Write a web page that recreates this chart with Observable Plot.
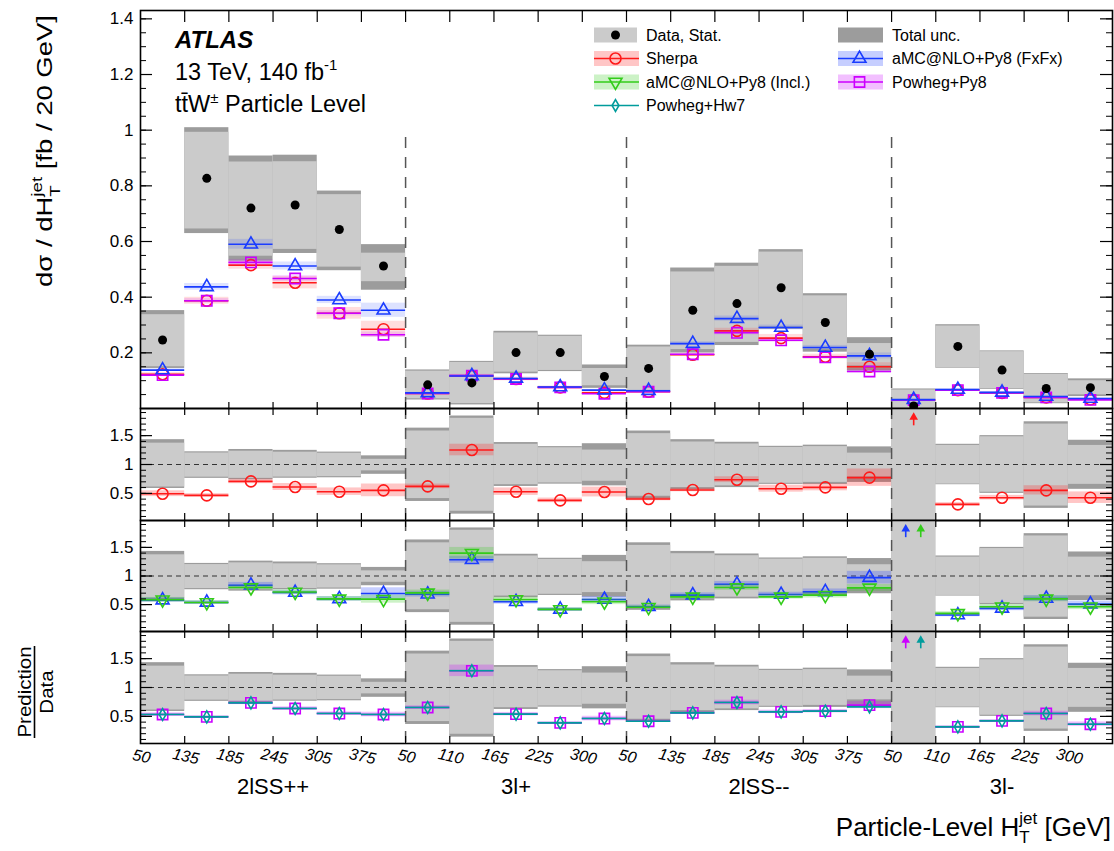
<!DOCTYPE html>
<html>
<head>
<meta charset="utf-8">
<script src="https://cdn.jsdelivr.net/npm/d3@7"></script>
<script src="https://cdn.jsdelivr.net/npm/@observablehq/plot@0.6"></script>
<style>
  body { margin: 0; background: #fff; }
  #wrap { position: relative; width: 1114px; height: 851px; background: #fff;
          font-family: "Liberation Sans", Arial, Helvetica, sans-serif; }
  #wrap > svg { position: absolute; left: 0; }
</style>
</head>
<body>
<div id="wrap"></div>
<script>
// ---------------- data ----------------
const edgeLabels = ["50","135","185","245","305","375","50","110","165","225","300",
                    "50","135","185","245","305","375","50","110","165","225","300"];
const regionNames = ["2lSS++", "3l+", "2lSS--", "3l-"];
const regionBins = [6, 5, 6, 5];

const dataXsec = [0.246,0.827,0.720,0.731,0.643,0.512, 0.085,0.092,0.201,0.201,0.115,
                  0.144,0.353,0.377,0.434,0.309,0.195, 0.009,0.223,0.138,0.072,0.075];
// relative uncertainty bounds (ratio to data)
const totHi  = [1.43,1.22,1.26,1.245,1.215,1.15, 1.63,1.84,1.38,1.31,1.36,
                1.58,1.43,1.385,1.315,1.335,1.305, 7.8,1.35,1.50,1.74,1.42];
const statHi = [1.37,1.20,1.23,1.213,1.195,1.09, 1.58,1.80,1.35,1.29,1.25,
                1.535,1.39,1.355,1.295,1.31,1.197, 7.4,1.33,1.48,1.70,1.33];
const statLo = [0.61,0.78,0.76,0.782,0.79,0.89, 0.41,0.19,0.65,0.68,0.71,
                0.45,0.60,0.63,0.675,0.69,0.785, -3.0,0.66,0.52,0.28,0.656];
const totLo  = [0.585,0.76,0.735,0.762,0.77,0.83, 0.36,0.14,0.62,0.66,0.63,
                0.40,0.565,0.60,0.656,0.655,0.69, -3.5,0.65,0.50,0.24,0.57];

// predictions in the main panel
const sherpaMain    = [0.123,0.387,0.515,0.452,0.342,0.285, 0.054,0.117,0.106,0.076,0.056,
                       0.060,0.193,0.279,0.253,0.186,0.150, 0.030,0.066,0.056,0.040,0.033];
const fxfxMain      = [0.138,0.437,0.590,0.512,0.390,0.353, 0.056,0.117,0.108,0.077,0.066,
                       0.064,0.233,0.323,0.291,0.219,0.189, 0.032,0.068,0.058,0.043,0.036];
const powhegPy8Main = [0.120,0.387,0.525,0.467,0.342,0.265, 0.054,0.118,0.106,0.076,0.053,
                       0.060,0.195,0.272,0.245,0.184,0.133, 0.030,0.066,0.056,0.040,0.031];

// prediction / data
const sherpaRatio    = [0.494,0.465,0.708,0.610,0.529,0.552, 0.621,1.251,0.529,0.379,0.523,
                        0.402,0.558,0.737,0.581,0.604,0.772, 3.3,0.309,0.425,0.552,0.425];
const fxfxRatio      = [0.578,0.538,0.838,0.711,0.600,0.694, 0.682,1.283,0.549,0.416,0.590,
                        0.462,0.665,0.855,0.676,0.723,0.971, 3.5,0.318,0.434,0.607,0.509];
const inclRatio      = [0.585,0.538,0.798,0.720,0.600,0.595, 0.705,1.399,0.590,0.416,0.549,
                        0.455,0.636,0.798,0.636,0.665,0.792, 3.4,0.347,0.462,0.600,0.462];
const powhegPy8Ratio = [0.532,0.491,0.734,0.636,0.549,0.532, 0.653,1.289,0.538,0.387,0.462,
                        0.416,0.561,0.740,0.578,0.590,0.694, 3.3,0.318,0.422,0.549,0.364];
const powhegHw7Ratio = [0.532,0.491,0.734,0.636,0.549,0.532, 0.653,1.289,0.538,0.387,0.462,
                        0.416,0.561,0.740,0.578,0.590,0.665, 3.3,0.318,0.422,0.549,0.364];

// prediction uncertainty half-widths (in ratio units)
const sherpaErr    = [0.05,0.03,0.04,0.06,0.065,0.11, 0.04,0.10,0.065,0.04,0.085,
                      0.03,0.03,0.05,0.06,0.06,0.15, 0.10,0.03,0.04,0.08,0.10];
const fxfxErr      = [0.04,0.03,0.05,0.04,0.04,0.10, 0.05,0.06,0.04,0.03,0.05,
                      0.03,0.04,0.05,0.04,0.05,0.11, 0.10,0.03,0.04,0.05,0.05];
const inclErr      = [0.04,0.03,0.04,0.04,0.04,0.07, 0.05,0.10,0.04,0.03,0.05,
                      0.03,0.04,0.05,0.04,0.05,0.06, 0.10,0.03,0.04,0.05,0.05];
const powhegPy8Err = [0.03,0.02,0.03,0.03,0.03,0.04, 0.03,0.10,0.03,0.02,0.04,
                      0.02,0.02,0.04,0.03,0.03,0.06, 0.10,0.02,0.02,0.04,0.04];
const powhegHw7Err = [0.015,0.015,0.015,0.015,0.015,0.015, 0.015,0.015,0.015,0.015,0.015,
                      0.015,0.015,0.015,0.015,0.015,0.015, 0.015,0.015,0.015,0.015,0.015];

const legendLabels = ["Data, Stat.", "Total unc.", "Sherpa", "aMC@NLO+Py8 (FxFx)",
                      "aMC@NLO+Py8 (Incl.)", "Powheg+Py8", "Powheg+Hw7"];

// ---------------- styling / layout ----------------
const FONT = '"Liberation Sans", Arial, Helvetica, sans-serif';
const W = 1114, ML = 140, MR = 2, PW = W - ML - MR;
const C = {
  stat: "#cbcbcb", tot: "#9c9c9c",
  sherpa: "#ff1a1a", fxfx: "#1a3cff", incl: "#33cc1a", py8: "#cc00ff", hw7: "#009c9c"
};
const triangleDown = {
  draw(context, size) {
    const s3 = Math.sqrt(3);
    const y = -Math.sqrt(size / (s3 * 3));
    context.moveTo(0, -y * 2);
    context.lineTo(-s3 * y, y);
    context.lineTo(s3 * y, y);
    context.closePath();
  }
};

const nBins = edgeLabels.length;
const rows = edgeLabels.map((lab, i) => ({
  i, lab, data: dataXsec[i],
  totHi: totHi[i], statHi: statHi[i], statLo: statLo[i], totLo: totLo[i],
  sherpaM: sherpaMain[i], fxfxM: fxfxMain[i], py8M: powhegPy8Main[i],
  sherpaR: sherpaRatio[i], fxfxR: fxfxRatio[i], inclR: inclRatio[i],
  py8R: powhegPy8Ratio[i], hw7R: powhegHw7Ratio[i],
  sherpaE: sherpaErr[i], fxfxE: fxfxErr[i], inclE: inclErr[i],
  py8E: powhegPy8Err[i], hw7E: powhegHw7Err[i]
}));
const cum = d3.cumsum(regionBins);
const sepEdges = Array.from(cum).slice(0, -1);
const regionRows = regionNames.map((name, k) => ({name, center: (cum[k] - regionBins[k]) + regionBins[k] / 2}));
const innerEdges = d3.range(1, nBins);

const wrap = d3.select("#wrap");

function frameTicks(h, yMajor, yMinor, topLen, botLen) {
  return [
    Plot.tickY(yMinor, {insetRight: PW - 6, stroke: "black", strokeWidth: 1}),
    Plot.tickY(yMinor, {insetLeft: PW - 6, stroke: "black", strokeWidth: 1}),
    Plot.tickY(yMajor, {insetRight: PW - 12, stroke: "black", strokeWidth: 1.2}),
    Plot.tickY(yMajor, {insetLeft: PW - 12, stroke: "black", strokeWidth: 1.2}),
    Plot.tickX(innerEdges, {insetBottom: h - topLen, stroke: "black", strokeWidth: 1.2}),
    Plot.tickX(innerEdges, {insetTop: h - botLen, stroke: "black", strokeWidth: 1.2})
  ];
}

function modelMarks(val, half, color, symbol, r, yMax, bandOpacity = 0.25) {
  const ok = d => val(d) <= yMax;
  return [
    Plot.rect(rows, {filter: ok, x1: "i", x2: d => d.i + 1, y1: d => val(d) - half(d), y2: d => val(d) + half(d),
                     fill: color, fillOpacity: bandOpacity, clip: true}),
    Plot.ruleY(rows, {filter: ok, y: val, x1: "i", x2: d => d.i + 1, stroke: color, strokeWidth: 1.6}),
    Plot.dot(rows, {filter: ok, x: d => d.i + 0.5, y: val, symbol, r, stroke: color, strokeWidth: 1.6, fill: "none"})
  ];
}

function arrowMarks(val, color, xOff, yMax) {
  const out = rows.filter(d => val(d) > yMax);
  return [
    Plot.ruleX(out, {x: d => d.i + xOff, y1: yMax - 0.30, y2: yMax - 0.16, stroke: color, strokeWidth: 1.6}),
    Plot.dot(out, {x: d => d.i + xOff, y: yMax - 0.15, symbol: "triangle", r: 3.2, fill: color, stroke: "none"})
  ];
}

function place(svg, top) {
  svg.style.position = "absolute";
  svg.style.top = top + "px";
  svg.style.left = "0px";
  wrap.node().appendChild(svg);
}

const commonStyle = {fontFamily: FONT, fontSize: "17px", background: "transparent", overflow: "visible", color: "black"};

// ---------------- main panel ----------------
const mainTop = 1.43;
const mainH = 398;
const main = Plot.plot({
  width: W, height: 408, marginTop: 10, marginBottom: 0, marginLeft: ML, marginRight: MR,
  style: commonStyle,
  x: {domain: [0, nBins], axis: null},
  y: {domain: [0, mainTop]},
  marks: [
    Plot.rect(rows, {x1: "i", x2: d => d.i + 1, y1: d => d.data * d.totLo, y2: d => d.data * d.totHi, fill: C.tot, clip: true}),
    Plot.rect(rows, {x1: "i", x2: d => d.i + 1, y1: d => d.data * d.statLo, y2: d => d.data * d.statHi, fill: C.stat, clip: true}),
    Plot.ruleX(sepEdges, {y1: 0, y2: 1.0, stroke: "#555", strokeWidth: 1.5, strokeDasharray: "11,9"}),
    ...modelMarks(d => d.sherpaM, d => 0.5 * d.sherpaM * d.sherpaE / d.sherpaR, C.sherpa, "circle", 5.5, mainTop, 0.15),
    ...modelMarks(d => d.py8M, d => 0.5 * d.py8M * d.py8E / d.py8R, C.py8, "square", 5.8, mainTop, 0.15),
    ...modelMarks(d => d.fxfxM, d => 0.5 * d.fxfxM * d.fxfxE / d.fxfxR, C.fxfx, "triangle", 4.8, mainTop, 0.15),
    Plot.dot(rows, {x: d => d.i + 0.5, y: "data", fill: "black", r: 4.5}),
    ...frameTicks(mainH, [0.2, 0.4, 0.6, 0.8, 1, 1.2, 1.4], d3.range(1, 29).map(k => k * 0.05), 12, 6),
    Plot.axisY({ticks: [0.2, 0.4, 0.6, 0.8, 1, 1.2, 1.4], tickSize: 0, tickPadding: 7,
                tickFormat: d => String(d), fontSize: 17, label: null}),
    Plot.frame({stroke: "black", strokeWidth: 1.6})
  ]
});
place(main, 0);

// ---------------- ratio panels ----------------
const rDom = [0.03, 1.97];
function ratioPanel(h, marginBottom, models, extra = []) {
  return Plot.plot({
    width: W, height: h + marginBottom, marginTop: 0, marginBottom, marginLeft: ML, marginRight: MR,
    style: commonStyle,
    x: {domain: [0, nBins], axis: null},
    y: {domain: rDom},
    marks: [
      Plot.rect(rows, {x1: "i", x2: d => d.i + 1, y1: "totLo", y2: "totHi", fill: C.tot, clip: true}),
      Plot.rect(rows, {x1: "i", x2: d => d.i + 1, y1: "statLo", y2: "statHi", fill: C.stat, clip: true}),
      Plot.ruleX(sepEdges, {stroke: "#555", strokeWidth: 1.5, strokeDasharray: "11,9"}),
      Plot.ruleY([1], {stroke: "#333", strokeWidth: 1.2, strokeDasharray: "5,4"}),
      ...models,
      ...frameTicks(h, [0.5, 1, 1.5], d3.range(1, 20).map(k => k * 0.1), 7, 7),
      Plot.axisY({ticks: [0.5, 1, 1.5], tickSize: 0, tickPadding: 7, tickFormat: d => String(d), fontSize: 17, label: null}),
      Plot.frame({stroke: "black", strokeWidth: 1.6}),
      ...extra
    ]
  });
}

const r1 = ratioPanel(112, 0, [
  ...modelMarks(d => d.sherpaR, d => d.sherpaE, C.sherpa, "circle", 5.5, rDom[1]),
  ...arrowMarks(d => d.sherpaR, C.sherpa, 0.5, rDom[1])
]);
place(r1, 408);

const r2 = ratioPanel(111, 0, [
  ...modelMarks(d => d.fxfxR, d => d.fxfxE, C.fxfx, "triangle", 4.8, rDom[1]),
  ...modelMarks(d => d.inclR, d => d.inclE, C.incl, triangleDown, 4.8, rDom[1]),
  ...arrowMarks(d => d.fxfxR, C.fxfx, 0.32, rDom[1]),
  ...arrowMarks(d => d.inclR, C.incl, 0.66, rDom[1])
]);
place(r2, 520);

const r3 = ratioPanel(112, 108, [
  ...modelMarks(d => d.py8R, d => d.py8E, C.py8, "square", 5.8, rDom[1]),
  ...modelMarks(d => d.hw7R, d => d.hw7E, C.hw7, "diamond", 3.6, rDom[1]),
  ...arrowMarks(d => d.py8R, C.py8, 0.32, rDom[1]),
  ...arrowMarks(d => d.hw7R, C.hw7, 0.66, rDom[1])
], [
  Plot.text(rows, {x: "i", text: "lab", frameAnchor: "bottom", dy: 18, rotate: 12, fontStyle: "italic", fontSize: 16}),
  Plot.text(regionRows, {x: "center", text: "name", frameAnchor: "bottom", dy: 50, fontSize: 22})
]);
place(r3, 631);

// ---------------- overlay texts & legend ----------------
const ov = wrap.append("svg")
  .attr("width", W).attr("height", 851)
  .style("position", "absolute").style("top", "0px").style("left", "0px")
  .style("pointer-events", "none").style("font-family", FONT).style("overflow", "visible");

ov.append("text").attr("x", 175).attr("y", 48).attr("font-size", 24)
  .attr("font-weight", "bold").attr("font-style", "italic").text("ATLAS");
const l2 = ov.append("text").attr("x", 175).attr("y", 80).attr("font-size", 23.5);
l2.append("tspan").text("13 TeV, 140 fb");
l2.append("tspan").attr("font-size", 15).attr("dy", -10).text("-1");
const l3 = ov.append("text").attr("x", 175).attr("y", 112).attr("font-size", 23.5);
l3.append("tspan").text("tt\u0304W");
l3.append("tspan").attr("font-size", 15).attr("dy", -9).text("\u00b1");
l3.append("tspan").attr("dy", 9).text(" Particle Level");

// legend
const legendSpec = [
  {col: 0, row: 0, label: legendLabels[0], kind: "data"},
  {col: 1, row: 0, label: legendLabels[1], kind: "tot"},
  {col: 0, row: 1, label: legendLabels[2], color: C.sherpa, sym: d3.symbolCircle, r: 5.5, box: true},
  {col: 1, row: 1, label: legendLabels[3], color: C.fxfx, sym: d3.symbolTriangle, r: 4.8, box: true},
  {col: 0, row: 2, label: legendLabels[4], color: C.incl, sym: triangleDown, r: 4.8, box: true},
  {col: 1, row: 2, label: legendLabels[5], color: C.py8, sym: d3.symbolSquare, r: 5.8, box: true},
  {col: 0, row: 3, label: legendLabels[6], color: C.hw7, sym: d3.symbolDiamond, r: 3.6, box: false}
];
const colX = [594, 838], rowY = [35, 58.5, 82, 105.5], swW = 43, swH = 15;
legendSpec.forEach(e => {
  const x0 = colX[e.col], yc = rowY[e.row], xc = x0 + swW / 2;
  const g = ov.append("g");
  if (e.kind === "data") {
    g.append("rect").attr("x", x0).attr("y", yc - swH / 2).attr("width", swW).attr("height", swH).attr("fill", C.stat);
    g.append("circle").attr("cx", xc).attr("cy", yc).attr("r", 4.5).attr("fill", "black");
  } else if (e.kind === "tot") {
    g.append("rect").attr("x", x0).attr("y", yc - swH / 2).attr("width", swW + 2).attr("height", swH).attr("fill", C.tot);
  } else {
    if (e.box) g.append("rect").attr("x", x0).attr("y", yc - swH / 2).attr("width", swW + 2).attr("height", swH)
      .attr("fill", e.color).attr("fill-opacity", 0.25);
    g.append("line").attr("x1", x0).attr("x2", x0 + swW + 2).attr("y1", yc).attr("y2", yc)
      .attr("stroke", e.color).attr("stroke-width", 1.6);
    g.append("path").attr("d", d3.symbol(e.sym, Math.PI * e.r * e.r)())
      .attr("transform", `translate(${xc},${yc})`).attr("fill", "none")
      .attr("stroke", e.color).attr("stroke-width", 1.6);
  }
  ov.append("text").attr("x", x0 + 52 + (e.col ? 2 : 0)).attr("y", yc + 5.8).attr("font-size", 16).text(e.label);
});

// y title (main)
const yt = ov.append("text").attr("transform", "translate(52,287) rotate(-90) scale(1.25,1)").attr("font-size", 22);
yt.append("tspan").text("d\u03c3 / dH");
yt.append("tspan").attr("font-size", 15).attr("dy", -10).text("jet");
yt.append("tspan").attr("font-size", 15).attr("dx", -15.8).attr("dy", 18).text("T");
yt.append("tspan").attr("dx", 6.6).attr("dy", -8).text(" [fb / 20 GeV]");

// Prediction / Data
ov.append("text").attr("transform", "translate(31,692) rotate(-90) scale(1.08,1)")
  .attr("text-anchor", "middle").attr("font-size", 19).text("Prediction");
ov.append("line").attr("x1", 34.5).attr("x2", 34.5).attr("y1", 646).attr("y2", 738)
  .attr("stroke", "black").attr("stroke-width", 1.6);
ov.append("text").attr("transform", "translate(53,692) rotate(-90) scale(1.08,1)")
  .attr("text-anchor", "middle").attr("font-size", 19).text("Data");

// x title
const xt = ov.append("text").attr("x", 1111).attr("y", 836).attr("text-anchor", "end").attr("font-size", 26);
xt.append("tspan").text("Particle-Level H");
xt.append("tspan").attr("font-size", 17).attr("dy", -12).text("jet");
xt.append("tspan").attr("font-size", 17).attr("dx", -18).attr("dy", 19).text("T");
xt.append("tspan").attr("dx", 7.6).attr("dy", -7).text(" [GeV]");
</script>
</body>
</html>
